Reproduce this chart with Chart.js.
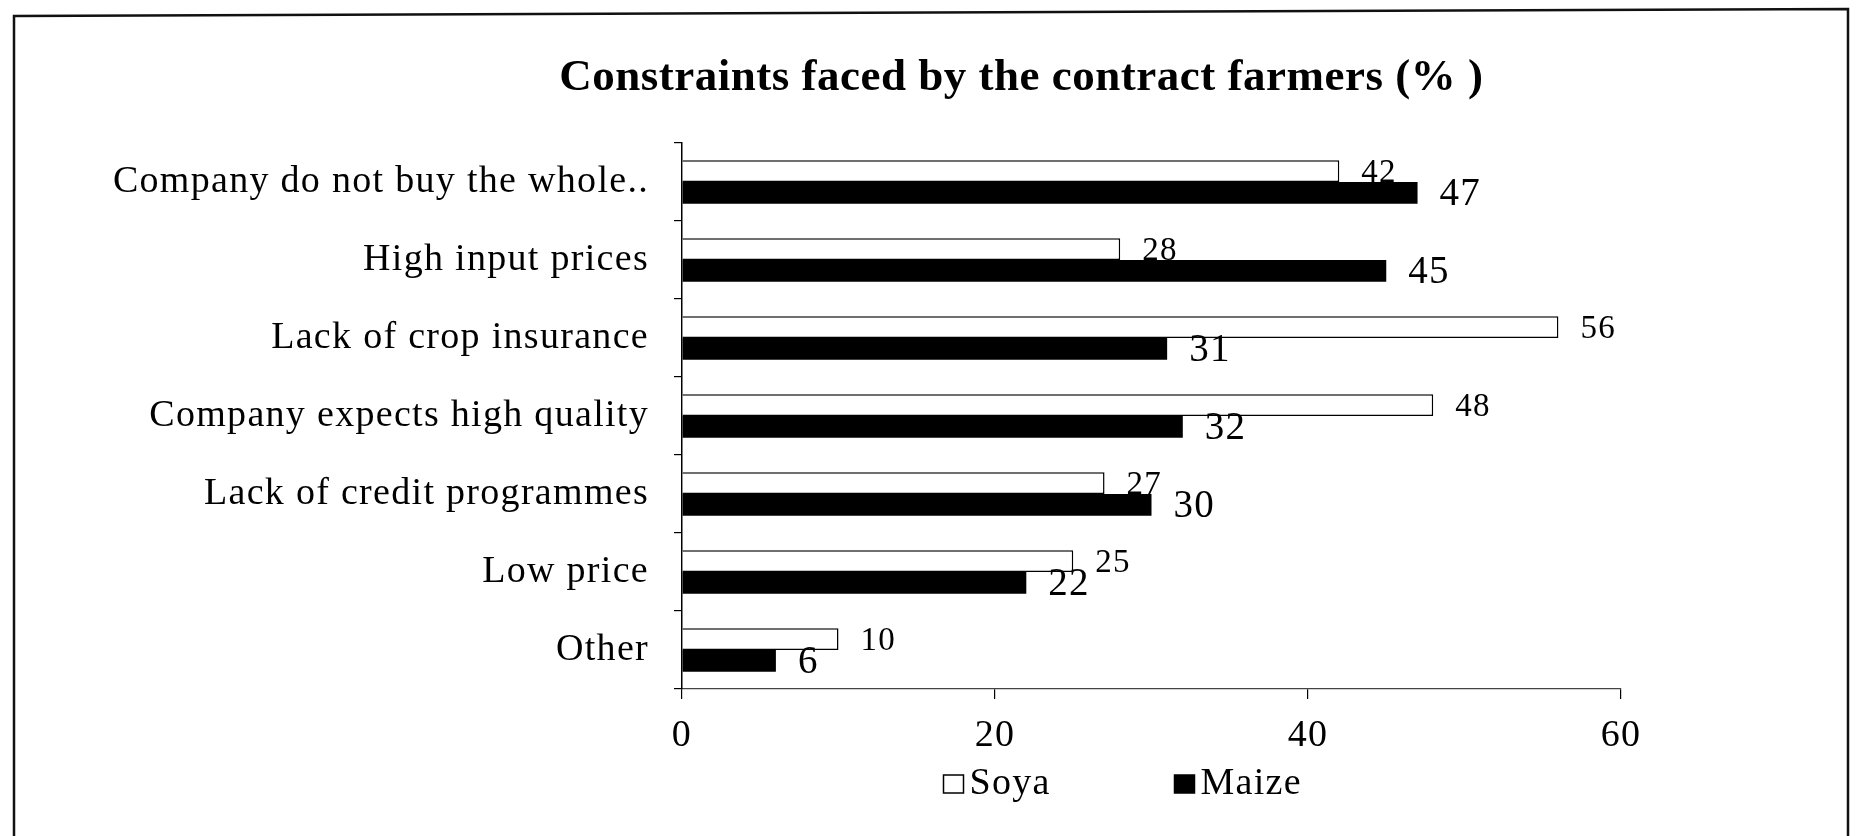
<!DOCTYPE html>
<html>
<head>
<meta charset="utf-8">
<title>Constraints faced by the contract farmers</title>
<script src="https://cdn.jsdelivr.net/npm/chart.js@4.4.1/dist/chart.umd.min.js"></script>
<style>
  html, body { margin: 0; padding: 0; background: #fff; }
  #wrap { position: relative; width: 1857px; height: 836px; }
</style>
</head>
<body>
<div id="wrap"><canvas id="constraints-chart"></canvas></div>
<script>
// Chart values
const chartTitle = "Constraints faced by the contract farmers (% )";
const categories = [
  "Company do not buy the whole..",
  "High input prices",
  "Lack of crop insurance",
  "Company expects high quality",
  "Lack of credit programmes",
  "Low price",
  "Other"
];
const soyaValues = [42, 28, 56, 48, 27, 25, 10];
const maizeValues = [47, 45, 31, 32, 30, 22, 6];
const xTicks = [0, 20, 40, 60];

const serif = '"Liberation Serif", "Times New Roman", serif';
const spacing = "1.3px";

// draws the paper frame, the value labels, the title and the legend
const paperPlugin = {
  id: "paper",
  beforeLayout(chart) {
    chart.ctx.letterSpacing = spacing;
  },
  beforeDraw(chart) {
    let ctx = chart.ctx;
    ctx.save();
    ctx.fillStyle = "#fff";
    ctx.fillRect(0, 0, chart.width, chart.height);
    ctx.strokeStyle = "#111";
    ctx.lineWidth = 2.5;
    ctx.beginPath();
    ctx.moveTo(14, chart.height + 5);
    ctx.lineTo(14, 16);
    ctx.lineTo(chart.width - 9, 9);
    ctx.lineTo(chart.width - 9, chart.height + 5);
    ctx.stroke();
    ctx.restore();
    ctx.letterSpacing = spacing;
  },
  afterDatasetsDraw(chart) {
    let ctx = chart.ctx;
    chart.data.datasets.forEach((ds, i) => {
      let meta = chart.getDatasetMeta(i);
      ctx.save();
      ctx.letterSpacing = spacing;
      ctx.font = ds.valueFontSize + "px " + serif;
      ctx.fillStyle = "#000";
      ctx.textAlign = "left";
      ctx.textBaseline = "middle";
      meta.data.forEach((bar, j) => {
        ctx.fillText(String(ds.data[j]), bar.x + 22, bar.y + 2);
      });
      ctx.restore();
    });
  },
  afterDraw(chart) {
    let ctx = chart.ctx;
    let area = chart.chartArea;

    // title
    ctx.save();
    ctx.letterSpacing = "0.5px";
    ctx.font = "bold 45px " + serif;
    ctx.fillStyle = "#000";
    ctx.textAlign = "center";
    ctx.textBaseline = "middle";
    ctx.fillText(chartTitle, chart.width * 0.55, 78);
    ctx.restore();

    // legend
    let cx = (area.left + area.right) / 2;
    let y = 784;
    let starts = [cx - 208, cx + 23];
    ctx.save();
    ctx.letterSpacing = spacing;
    ctx.font = "38px " + serif;
    ctx.textBaseline = "middle";
    ctx.textAlign = "left";
    chart.data.datasets.forEach((ds, i) => {
      let x = starts[i];
      ctx.fillStyle = ds.backgroundColor;
      ctx.fillRect(x, y - 9, 20, 18);
      ctx.strokeStyle = "#000";
      ctx.lineWidth = 1.5;
      ctx.strokeRect(x, y - 9, 20, 18);
      ctx.fillStyle = "#000";
      ctx.fillText(ds.label, x + 26, y);
    });
    ctx.restore();
  }
};

let chart = new Chart(document.getElementById("constraints-chart").getContext("2d"), {
  type: "bar",
  data: {
    labels: categories,
    datasets: [
      {
        label: "Soya",
        data: soyaValues,
        backgroundColor: "#ffffff",
        borderColor: "#000000",
        borderWidth: 1.5,
        valueFontSize: 33
      },
      {
        label: "Maize",
        data: maizeValues,
        backgroundColor: "#000000",
        borderColor: "#000000",
        borderWidth: 0,
        valueFontSize: 39
      }
    ]
  },
  options: {
    indexAxis: "y",
    responsive: true,
    maintainAspectRatio: false,
    animation: false,
    categoryPercentage: 0.56,
    barPercentage: 1.0,
    layout: {
      padding: { top: 143, right: 236, bottom: 57, left: 0 }
    },
    plugins: {
      legend: { display: false },
      title: { display: false },
      tooltip: { enabled: false }
    },
    scales: {
      x: {
        min: 0,
        max: 60,
        afterBuildTicks: scale => {
          scale.ticks = xTicks.map(v => ({ value: v }));
        },
        afterFit: scale => {
          scale.height = 90;
        },
        grid: {
          drawOnChartArea: false,
          drawTicks: true,
          tickLength: 10,
          color: "#000",
          lineWidth: 1.2
        },
        border: { display: true, color: "#444", width: 1.2, dash: [6, 3] },
        ticks: {
          color: "#000",
          padding: 14,
          font: { family: serif, size: 38 }
        }
      },
      y: {
        afterFit: scale => {
          scale.width = 682;
        },
        grid: {
          drawOnChartArea: false,
          drawTicks: true,
          tickLength: 8,
          color: "#000",
          lineWidth: 1.2
        },
        border: { display: true, color: "#000", width: 1.5 },
        ticks: {
          color: "#000",
          padding: 25,
          autoSkip: false,
          font: { family: serif, size: 38 }
        }
      }
    }
  },
  plugins: [paperPlugin]
});
</script>
</body>
</html>
